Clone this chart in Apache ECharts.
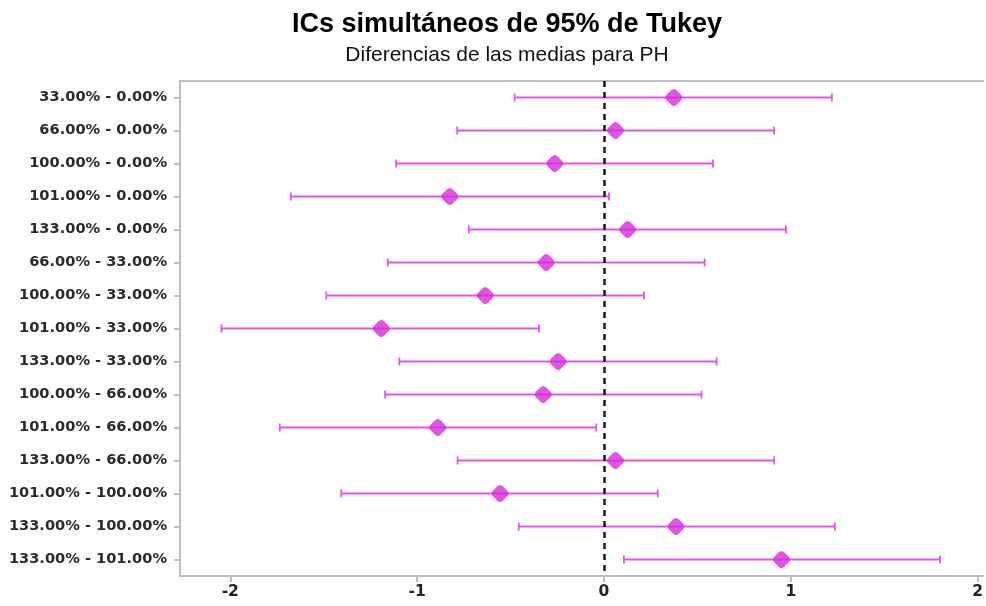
<!DOCTYPE html>
<html>
<head>
<meta charset="utf-8">
<script src="https://cdn.jsdelivr.net/npm/echarts@6/dist/echarts.min.js"></script>
<style>
  html, body { margin: 0; padding: 0; background: #fff; }
  #chart { width: 986px; height: 606px; }
</style>
</head>
<body>
<div id="chart"></div>
<script>
// Pairwise comparisons (top to bottom)
const comparisons = [
  '33.00% - 0.00%', '66.00% - 0.00%', '100.00% - 0.00%', '101.00% - 0.00%',
  '133.00% - 0.00%', '66.00% - 33.00%', '100.00% - 33.00%', '101.00% - 33.00%',
  '133.00% - 33.00%', '100.00% - 66.00%', '101.00% - 66.00%', '133.00% - 66.00%',
  '101.00% - 100.00%', '133.00% - 100.00%', '133.00% - 101.00%'
];
// Difference of means and 95% simultaneous interval bounds
const diffs = [0.374, 0.062, -0.263, -0.825, 0.127, -0.309, -0.635, -1.192,
               -0.245, -0.325, -0.889, 0.062, -0.556, 0.386, 0.950];
const lowers = [-0.478, -0.785, -1.112, -1.676, -0.723, -1.157, -1.486, -2.047,
                -1.095, -1.171, -1.735, -0.783, -1.406, -0.456, 0.107];
const uppers = [1.220, 0.911, 0.584, 0.027, 0.974, 0.539, 0.214, -0.347,
                0.603, 0.522, -0.041, 0.911, 0.288, 1.236, 1.799];
const xTicks = [-2, -1, 0, 1, 2];

const chart = echarts.init(document.getElementById('chart'));
const axisGrey = '#bdbdbd';
const barColor = '#e652ea';
const pointColor = '#d82ad9';
const labelFont = 'DejaVu Sans';

const intervalData = comparisons.map((c, i) => [i, lowers[i], uppers[i]]);
const pointData = comparisons.map((c, i) => [diffs[i], i]);

chart.setOption({
  animation: false,
  title: [
    {
      text: 'ICs simultáneos de 95% de Tukey',
      left: 502, top: 6, textAlign: 'center',
      textStyle: { fontFamily: 'Liberation Sans', fontWeight: 'bold', fontSize: 27, color: '#000' }
    },
    {
      text: 'Diferencias de las medias para PH',
      left: 502, top: 40, textAlign: 'center',
      textStyle: { fontFamily: 'Liberation Sans', fontWeight: 'normal', fontSize: 21, color: '#111' }
    }
  ],
  grid: { left: 180, right: 1, top: 81, bottom: 30, containLabel: false },
  xAxis: [
    {
      type: 'value', min: -2.269, max: 2.029,
      axisLine: { show: true, onZero: false, lineStyle: { color: axisGrey, width: 2 } },
      splitLine: { show: false },
      axisLabel: {
        fontFamily: labelFont, fontWeight: 'bold', fontSize: 15.5, color: '#222', margin: 8,
        customValues: xTicks,
        formatter: v => String(v)
      },
      axisTick: { show: true, length: 6, customValues: xTicks, lineStyle: { color: axisGrey, width: 2 } }
    },
    {
      type: 'value', position: 'top', min: -2.269, max: 2.029,
      axisLine: { show: true, onZero: false, lineStyle: { color: axisGrey, width: 2 } },
      axisTick: { show: false }, axisLabel: { show: false }, splitLine: { show: false }
    }
  ],
  yAxis: {
    type: 'category', data: comparisons, inverse: true,
    axisLine: { show: true, onZero: false, lineStyle: { color: axisGrey, width: 2 } },
    axisTick: { show: true, alignWithLabel: true, length: 6, lineStyle: { color: axisGrey, width: 2 } },
    axisLabel: { fontFamily: labelFont, fontWeight: 'bold', fontSize: 14.6, color: '#2a2a2a', margin: 13 },
    splitLine: { show: false }
  },
  series: [
    {
      type: 'custom',
      data: intervalData,
      renderItem: (params, api) => {
        const row = api.value(0);
        const lo = api.coord([api.value(1), row]);
        const hi = api.coord([api.value(2), row]);
        const cap = 4;
        const style = { stroke: barColor, lineWidth: 1.8 };
        return {
          type: 'group',
          children: [
            { type: 'line', shape: { x1: lo[0], y1: lo[1], x2: hi[0], y2: hi[1] }, style },
            { type: 'line', shape: { x1: lo[0], y1: lo[1] - cap, x2: lo[0], y2: lo[1] + cap }, style },
            { type: 'line', shape: { x1: hi[0], y1: hi[1] - cap, x2: hi[0], y2: hi[1] + cap }, style }
          ]
        };
      },
      encode: { x: [1, 2], y: 0 },
      z: 2
    },
    {
      type: 'scatter',
      data: pointData,
      symbol: 'path://M3.5,1.5 Q5,0 6.5,1.5 L8.5,3.5 Q10,5 8.5,6.5 L6.5,8.5 Q5,10 3.5,8.5 L1.5,6.5 Q0,5 1.5,3.5 Z',
      symbolSize: 17,
      itemStyle: { color: pointColor },
      z: 4,
      markLine: {
        silent: true, symbol: 'none', label: { show: false },
        lineStyle: { color: '#1a1a1a', type: [6, 5], width: 2.5 },
        data: [{ xAxis: 0 }],
        z: 3
      }
    }
  ]
});
</script>
</body>
</html>
